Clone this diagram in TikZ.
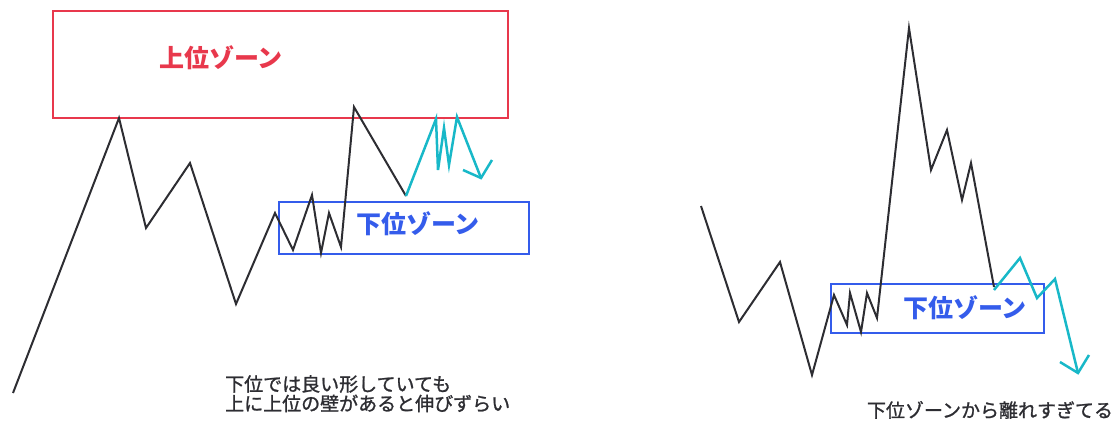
\documentclass[tikz,border=0pt]{standalone}
\usepackage{fontspec}
\setmainfont{Noto Sans CJK JP}
\usetikzlibrary{positioning}
\definecolor{zonered}{RGB}{232,56,76}
\definecolor{zoneblue}{RGB}{52,92,235}
\definecolor{waveteal}{RGB}{24,184,200}
\definecolor{pricegray}{RGB}{45,45,50}

\begin{document}
\begin{tikzpicture}[x=1pt,y=-1pt,
  price/.style={pricegray,line width=2pt},
  wave/.style={waveteal,line width=2.5pt},
  zone/.style={draw,line width=2.6pt,inner sep=0pt},
  zonelabel/.style={font=\bfseries\fontsize{25}{25}\selectfont,inner sep=0pt},
  note/.style={text=pricegray,font=\fontsize{19}{19.5}\selectfont\addfontfeatures{FakeBold=1.2},align=left,inner sep=0pt}]
\useasboundingbox (0,0) rectangle (1120,421);
% left chart: zones
\node[zone,zonered,minimum width=455pt,minimum height=107pt] (upper) at (280.5,64.5) {};
\node[zonelabel,text=zonered] (upperlbl) at (221,58) {上位ゾーン};
\node[zone,zoneblue,minimum width=250pt,minimum height=52pt] (lower) at (404,228) {};
\node[zonelabel,text=zoneblue] (lowerlbl) at (418,224) {下位ゾーン};
% left chart: price
\draw[price] plot coordinates {(13,393) (119,118) (146,228) (190,163) (236,304) (275,213) (293,250) (312,195) (321,253) (329,213) (341,247) (354,107) (406,196)};
\coordinate (leftend) at (406,196);
\draw[wave] (leftend) -- (436,119) -- (438,170) -- (444,128) -- (449,165) -- (457,117) -- (481,178) coordinate (lefttip);
\draw[wave] (463,170) -- (lefttip) -- (492,160);
\node[note,anchor=north west] (leftnote) at (225,375) {下位では良い形していても\\上に上位の壁があると伸びずらい};
% right chart
\node[zone,zoneblue,minimum width=213pt,minimum height=49pt] (lower2) at (937.5,308.5) {};
\node[zonelabel,text=zoneblue] (lower2lbl) at (965,308) {下位ゾーン};
\draw[price] plot coordinates {(701,206) (739,322) (780,262) (812,375) (834,295) (847,325) (850,293) (861,332) (867,293) (877,318) (909,28) (931,170) (947,130) (962,200) (971,163) (994,287)};
\coordinate (rightend) at (994,290);
\draw[wave] (rightend) -- (1020,258) -- (1037,298) -- (1055,279) -- (1078,373) coordinate (righttip);
\draw[wave] (1060,362) -- (righttip) -- (1089,355);
\node[note,anchor=center] (rightnote) at (990,410) {下位ゾーンから離れすぎてる};
\end{tikzpicture}
\end{document}
